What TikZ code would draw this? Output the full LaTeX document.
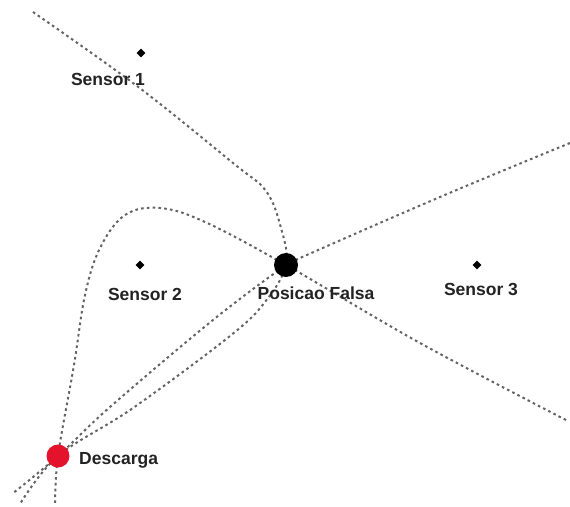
\documentclass[tikz,border=0pt]{standalone}
\usepackage{fontspec}
\setmainfont{Liberation Sans}
\usetikzlibrary{shapes.geometric}
\definecolor{curvegray}{RGB}{100,100,100}
\definecolor{dischred}{RGB}{228,18,42}
\definecolor{txt}{RGB}{35,35,35}
\tikzset{
  hyper/.style={draw=curvegray, line width=2pt, dash pattern=on 2.6pt off 3.2pt, smooth, tension=0.6},
  sensor/.style={diamond, fill=black, inner sep=0pt, minimum size=9pt},
  lbl/.style={text=txt, font=\bfseries\fontsize{17.5}{20}\selectfont, inner sep=0pt, anchor=base},
  bigdot/.style={circle, inner sep=0pt, minimum size=#1}
}
\begin{document}
\begin{tikzpicture}[x=1pt,y=-1pt]
\useasboundingbox (0,0) rectangle (570,506);
\fill[white] (0,0) rectangle (570,506);
\coordinate (fp) at (286,265);
\coordinate (dc) at (58,456);
% curve A: top-left, through false position, down to discharge
\draw[hyper] plot coordinates {(33,12) (137,86) (233,163) (266,191) (281,228) (fp) (265,302) (230,336) (133,408) (dc) (20,504)};
% curve C: upper right, through false position, down to discharge
\draw[hyper] plot coordinates {(570,143) (440,197) (300,258) (fp) (213,320) (110,407) (dc) (12,494)};
% curve B: lower right, through false position, loop over sensor 2, down through discharge
\draw[hyper] plot coordinates {(566,420) (420,343) (fp) (205,222) (160,208) (125,215) (100,248) (85,295) (74,365) (dc) (55,506)};
% sensors
\node[sensor] (s1) at (141,53) {};
\node[sensor] (s2) at (140,265) {};
\node[sensor] (s3) at (477,265) {};
\node[lbl] (l1) at (108,85) {Sensor 1};
\node[lbl] (l2) at (145,300) {Sensor 2};
\node[lbl] (l3) at (481,295) {Sensor 3};
% false position and discharge
\node[bigdot=24pt, fill=black] (falsa) at (fp) {};
\node[lbl] (lf) at (316,299) {Posicao Falsa};
\node[bigdot=23pt, fill=dischred] (desc) at (dc) {};
\node[lbl, anchor=base west] (ld) at (79,464) {Descarga};
\end{tikzpicture}
\end{document}
